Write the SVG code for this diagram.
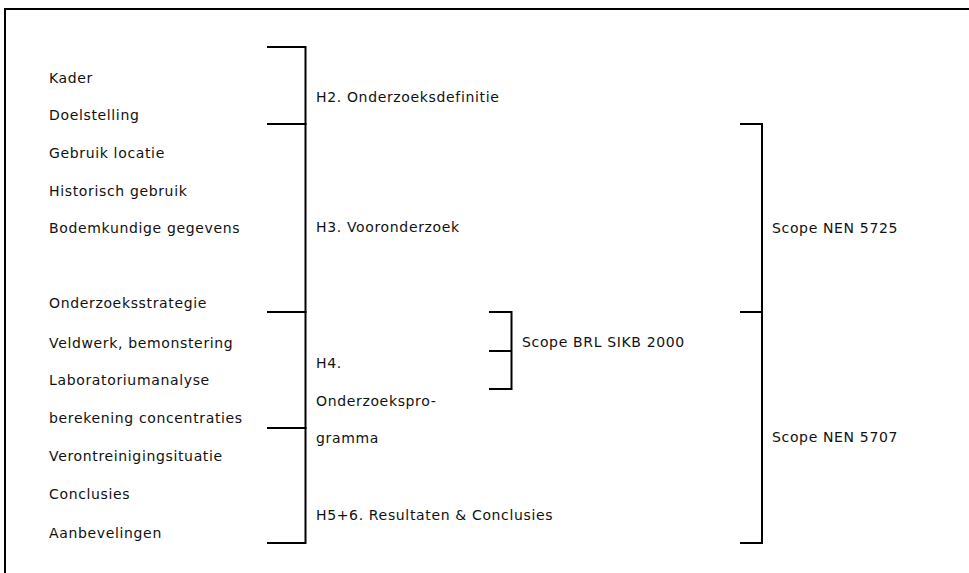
<svg xmlns="http://www.w3.org/2000/svg" width="969" height="573" viewBox="0 0 969 573">
<style>
text{font-family:"DejaVu Sans","Verdana",sans-serif;font-size:14px;letter-spacing:0.65px;fill:#111}
.br{fill:none;stroke:#000;stroke-width:2}
</style>
<rect x="0" y="0" width="969" height="573" fill="#fff"/>
<rect x="5" y="9" width="1000" height="600" fill="none" stroke="#000" stroke-width="2"/>
<g id="items">
<text x="49" y="82.5">Kader</text>
<text x="49" y="120">Doelstelling</text>
<text x="49" y="158">Gebruik locatie</text>
<text x="49" y="195.5">Historisch gebruik</text>
<text x="49" y="233">Bodemkundige gegevens</text>
<text x="49" y="308">Onderzoeksstrategie</text>
<text x="49" y="347.5">Veldwerk, bemonstering</text>
<text x="49" y="385">Laboratoriumanalyse</text>
<text x="49" y="423">berekening concentraties</text>
<text x="49" y="461">Verontreinigingsituatie</text>
<text x="49" y="499">Conclusies</text>
<text x="49" y="537.5">Aanbevelingen</text>
</g>
<g id="connectors">
<path class="br" d="M267,47H305.5V124H267"/>
<path class="br" d="M267,124H305.5V312H267"/>
<path class="br" d="M267,312H305.5V428H267"/>
<path class="br" d="M267,428H305.5V543H267"/>
<path class="br" d="M489,312H511.5V389H489M489,351H511.5"/>
<path class="br" d="M740,124H762V312H740"/>
<path class="br" d="M740,312H762V543H740"/>
</g>
<g id="h2"><text x="316" y="102">H2. Onderzoeksdefinitie</text></g>
<g id="h3"><text x="316" y="232">H3. Vooronderzoek</text></g>
<g id="h4"><text x="316" y="368">H4.</text><text x="316" y="406">Onderzoekspro-</text><text x="316" y="443">gramma</text></g>
<g id="h56"><text x="316" y="520">H5+6. Resultaten &amp; Conclusies</text></g>
<g id="brl"><text x="522" y="347">Scope BRL SIKB 2000</text></g>
<g id="nen5725"><text x="772" y="233">Scope NEN 5725</text></g>
<g id="nen5707"><text x="772" y="442">Scope NEN 5707</text></g>
</svg>
